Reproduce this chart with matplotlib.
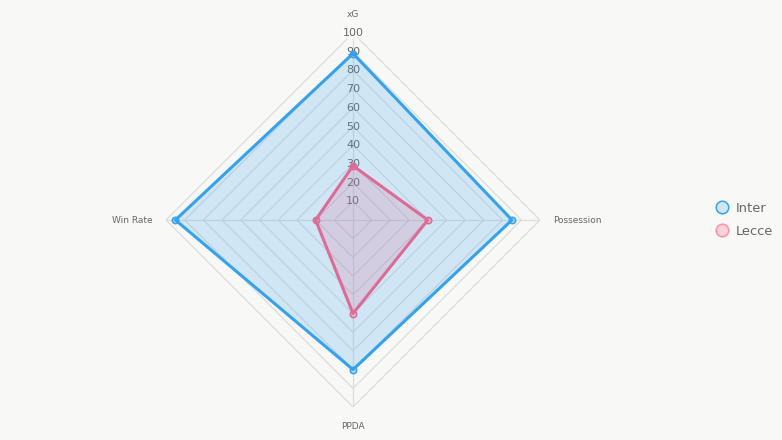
import numpy as np
import matplotlib.pyplot as plt
from matplotlib.lines import Line2D

# Radar data
categories = ['xG', 'Possession', 'PPDA', 'Win Rate']
inter_vals = [89, 85, 80, 95]
lecce_vals = [29, 40, 50, 20]
tick_vals = [10, 20, 30, 40, 50, 60, 70, 80, 90, 100]

bg = '#f8f8f7'
inter_col = '#36a2eb'
lecce_col = '#dc6b96'

fig = plt.figure(figsize=(7.82, 4.40), dpi=100, facecolor=bg)
ax = fig.add_axes([0.2123, 0.075, 0.4783, 0.85], projection='polar')
ax.set_facecolor(bg)
ax.set_theta_offset(np.pi / 2)
ax.set_theta_direction(-1)
ax.set_ylim(0, 100)
ax.grid(False)
ax.spines['polar'].set_visible(False)
ax.set_xticks([])
ax.set_yticks([])

angles = np.linspace(0, 2 * np.pi, len(categories), endpoint=False)
closed = np.append(angles, angles[0])

# grid polygons and spokes
for t in tick_vals:
    ax.plot(closed, [t] * len(closed), color='#dddddd', lw=0.9, zorder=1)
for a in angles:
    ax.plot([a, a], [0, 100], color='#dddddd', lw=0.9, zorder=1)

# tick labels along top spoke (under the datasets, like the original)
for t in tick_vals:
    bb = dict(boxstyle='square,pad=0.1', fc='white', ec='none', alpha=0.5) if t == 100 else None
    ax.text(0, t, str(t), ha='center', va='center', fontsize=8, color='#666666',
            zorder=1.5, bbox=bb)

# datasets
for vals, col, fill in [(inter_vals, inter_col, (54/255, 162/255, 235/255, 0.2)),
                        (lecce_vals, lecce_col, (220/255, 107/255, 150/255, 0.2))]:
    v = vals + vals[:1]
    ax.fill(closed, v, color=fill, zorder=2)
    ax.plot(closed, v, color=col, lw=2.2, zorder=3)
    ax.plot(angles, vals, 'o', ms=4.5, mfc=fill, mec=col, mew=1.2, zorder=4)

# axis labels
ax.text(angles[0], 110, categories[0], ha='center', va='center', fontsize=6.5, color='#666666')
ax.text(angles[1], 107, categories[1], ha='left', va='center', fontsize=6.5, color='#666666')
ax.text(angles[2], 110.5, categories[2], ha='center', va='center', fontsize=6.5, color='#666666')
ax.text(angles[3], 107, categories[3], ha='right', va='center', fontsize=6.5, color='#666666')

handles = [
    Line2D([], [], ls='', marker='o', ms=9, mfc=(54/255, 162/255, 235/255, 0.2), mec=inter_col, mew=1.1),
    Line2D([], [], ls='', marker='o', ms=9, mfc=(255/255, 99/255, 132/255, 0.25), mec='#ff8fab', mew=1.1),
]
fig.legend(handles, ['Inter', 'Lecce'], loc='upper left', bbox_to_anchor=(0.908, 0.553),
           frameon=False, fontsize=9.4, labelcolor='#666666', handletextpad=0.5,
           labelspacing=0.75, borderaxespad=0, handlelength=1.1)

fig.savefig('out.png', dpi=100, facecolor=bg)
